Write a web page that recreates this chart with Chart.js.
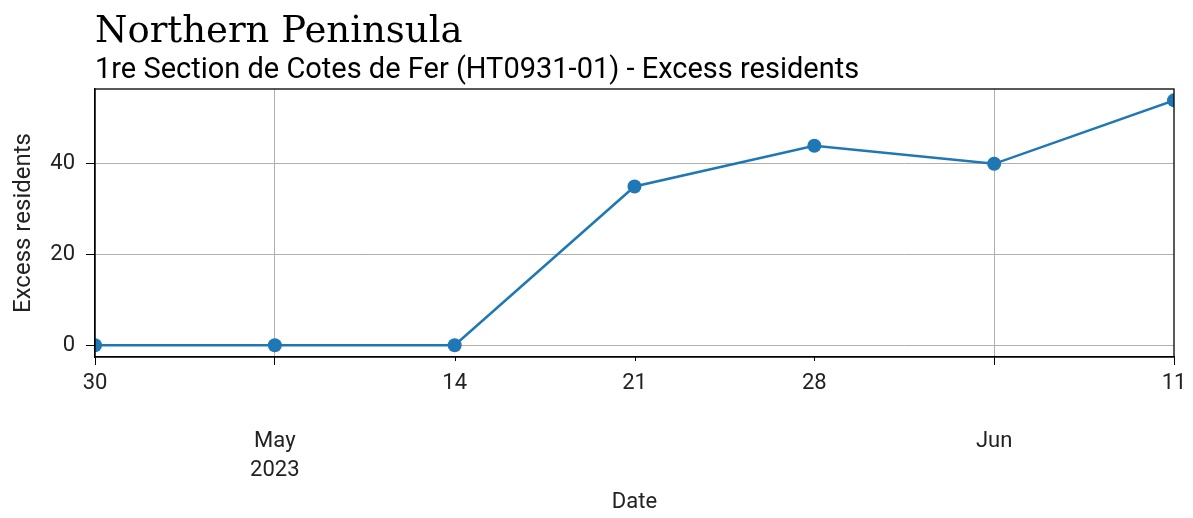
<!DOCTYPE html>
<html>
<head>
<meta charset="utf-8">
<script src="https://cdn.jsdelivr.net/npm/chart.js@4"></script>
<style>
  body { margin: 0; background: #fff; }
</style>
</head>
<body>
<canvas id="myChart" width="1193" height="518"></canvas>
<script>
// weekly observations
const weekDates = ['2023-04-30', '2023-05-07', '2023-05-14', '2023-05-21', '2023-05-28', '2023-06-04', '2023-06-11'];
const dayLabels = ['30', '', '14', '21', '28', '', '11'];
const monthLabels = [[], ['May', '2023'], [], [], [], ['Jun'], []];
const majorTicks = [true, true, false, false, false, true, true];
const excessResidents = [0, 0, 0, 35, 44, 40, 54];

const blue = '#1f77b4';
const gridGrey = '#b0b0b0';
const textColor = '#222222';

// frame on top/right + short minor ticks on x
const frameAndTicks = {
    id: 'frameAndTicks',
    afterDatasetsDraw(chart) {
        const ctx = chart.ctx;
        const a = chart.chartArea;
        const x = chart.scales.x;
        ctx.save();
        ctx.strokeStyle = '#000';
        ctx.lineWidth = 1;
        x.ticks.forEach(function (t, i) {
            if (majorTicks[i]) return;
            const px = Math.round(x.getPixelForTick(i)) + 0.5;
            ctx.beginPath();
            ctx.moveTo(px, a.bottom);
            ctx.lineTo(px, a.bottom + 4);
            ctx.stroke();
        });
        ctx.lineWidth = 1.3;
        ctx.strokeRect(a.left, a.top, a.right - a.left, a.bottom - a.top);
        ctx.restore();
    }
};

const data = {
    labels: weekDates,
    datasets: [{
        label: 'Excess residents',
        data: excessResidents,
        borderColor: blue,
        backgroundColor: blue,
        borderWidth: 2.5,
        pointRadius: 7,
        pointBorderWidth: 0,
        pointBackgroundColor: blue,
        tension: 0,
        clip: 0
    }]
};

const config = {
    type: 'line',
    data: data,
    plugins: [frameAndTicks],
    options: {
        responsive: false,
        animation: false,
        layout: {
            padding: { left: 0, right: 19, top: 0, bottom: 0 }
        },
        plugins: {
            legend: { display: false },
            tooltip: { enabled: false },
            title: {
                display: true,
                text: 'Northern Peninsula',
                align: 'start',
                fullSize: false,
                color: '#000',
                font: { family: 'DejaVu Serif', size: 37, weight: 'normal', lineHeight: 1 },
                padding: { top: 14, bottom: 0 }
            },
            subtitle: {
                display: true,
                text: '1re Section de Cotes de Fer (HT0931-01) - Excess residents',
                align: 'start',
                fullSize: false,
                color: '#000',
                font: { family: 'Roboto', size: 29, lineHeight: 1 },
                padding: { top: 5, bottom: 4 }
            }
        },
        scales: {
            x: {
                type: 'category',
                offset: false,
                afterFit: function (scale) { scale.height = 161; },
                border: { display: true, color: '#000', width: 1.3 },
                grid: {
                    color: function (c) { return (c.index === 1 || c.index === 5) ? gridGrey : 'rgba(0,0,0,0)'; },
                    lineWidth: 1,
                    drawTicks: true,
                    tickLength: 8,
                    tickWidth: 1,
                    tickColor: function (c) { return majorTicks[c.index] ? '#000' : 'rgba(0,0,0,0)'; }
                },
                ticks: {
                    autoSkip: false,
                    maxRotation: 0,
                    padding: 4,
                    color: textColor,
                    font: { family: 'Roboto', size: 22, lineHeight: 1.32 },
                    callback: function (value, i) {
                        if (monthLabels[i].length) return [dayLabels[i], ''].concat(monthLabels[i]);
                        return dayLabels[i];
                    }
                },
                title: {
                    display: true,
                    text: 'Date',
                    color: textColor,
                    font: { family: 'Roboto', size: 22 },
                    padding: { top: 0, bottom: 2 }
                }
            },
            y: {
                min: -2.6,
                max: 56.5,
                afterFit: function (scale) { scale.width = 95; },
                border: { display: true, color: '#000', width: 1.3 },
                grid: {
                    color: gridGrey,
                    lineWidth: 1,
                    tickLength: 9,
                    tickColor: '#000'
                },
                ticks: {
                    stepSize: 20,
                    includeBounds: false,
                    padding: 11,
                    color: textColor,
                    font: { family: 'Roboto', size: 22 }
                },
                title: {
                    display: true,
                    text: 'Excess residents',
                    color: textColor,
                    font: { family: 'Roboto', size: 24 },
                    padding: { top: 10, bottom: 0 }
                }
            }
        }
    }
};

new Chart(document.getElementById('myChart'), config);
</script>
</body>
</html>
